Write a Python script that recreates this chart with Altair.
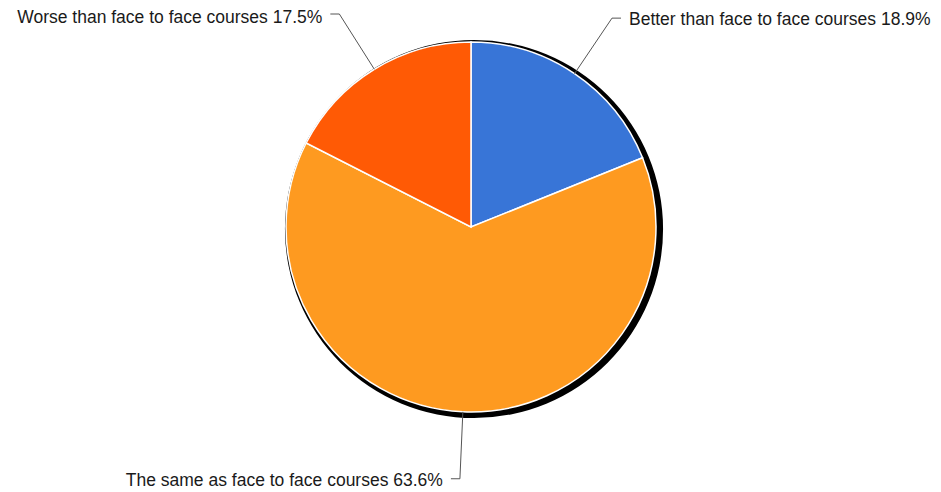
import math
import altair as alt
import pandas as pd

categories = ["Better than face to face courses", "The same as face to face courses", "Worse than face to face courses"]
values = [18.9, 63.6, 17.5]
colors = ["#3875D7", "#FE9A20", "#FF5A05"]

W, H = 925, 484
CX, CY, R = 463, 219, 185
R_ELBOW = 252

df = pd.DataFrame({"cat": categories, "val": values, "order": [0, 1, 2]})

# leader lines and labels derived from the values
total = sum(values)
rows_seg, rows_lab = [], []
cum = 0.0
for c, v in zip(categories, values):
    mid = (cum + v / 2) / total * 2 * math.pi
    cum += v
    sx, sy = CX + R * math.sin(mid), CY - R * math.cos(mid)
    ex, ey = CX + R_ELBOW * math.sin(mid), CY - R_ELBOW * math.cos(mid)
    ey = max(ey, 6)
    side = 1 if math.sin(mid) > 0.05 else -1
    hx = ex + side * 9
    rows_seg.append({"x": sx, "y": sy, "x2": ex, "y2": ey})
    rows_seg.append({"x": ex, "y": ey, "x2": hx, "y2": ey})
    rows_lab.append({"x": hx + side * 8, "y": max(ey - 7, 0.5), "t": f"{c} {v}%", "align": "left" if side > 0 else "right"})
seg = pd.DataFrame(rows_seg)
lab = pd.DataFrame(rows_lab)

shadow = alt.Chart(pd.DataFrame({"a": [1]})).mark_arc(
    x=CX + 3, y=CY + 2, radius=R + 4, theta=0, theta2=2 * math.pi, color="black"
).encode(opacity=alt.value(1))

pie = alt.Chart(df).mark_arc(x=CX, y=CY, radius=R, stroke="white", strokeWidth=1.5).encode(
    theta=alt.Theta("val:Q", stack=True),
    order=alt.Order("order:Q"),
    color=alt.Color("cat:N", scale=alt.Scale(domain=categories, range=colors), legend=None),
)

lines = alt.Chart(seg).mark_rule(color="#555555", strokeWidth=1).encode(
    x=alt.X("x:Q", scale=None), y=alt.Y("y:Q", scale=None),
    x2="x2:Q", y2="y2:Q",
)

left_lab = alt.Chart(lab[lab["align"] == "right"]).mark_text(
    align="right", baseline="top", font="Liberation Sans", fontSize=17.5, color="#1a1a1a"
).encode(x=alt.X("x:Q", scale=None), y=alt.Y("y:Q", scale=None), text="t:N")
right_lab = alt.Chart(lab[lab["align"] == "left"]).mark_text(
    align="left", baseline="top", font="Liberation Sans", fontSize=17.5, color="#1a1a1a"
).encode(x=alt.X("x:Q", scale=None), y=alt.Y("y:Q", scale=None), text="t:N")

chart = alt.layer(shadow, pie, lines, left_lab, right_lab).properties(
    width=W, height=H, autosize=alt.AutoSizeParams(type="none"), padding=0
).configure_view(stroke=None)

chart.save("out.html", embed_options={"renderer": "svg", "actions": False})
